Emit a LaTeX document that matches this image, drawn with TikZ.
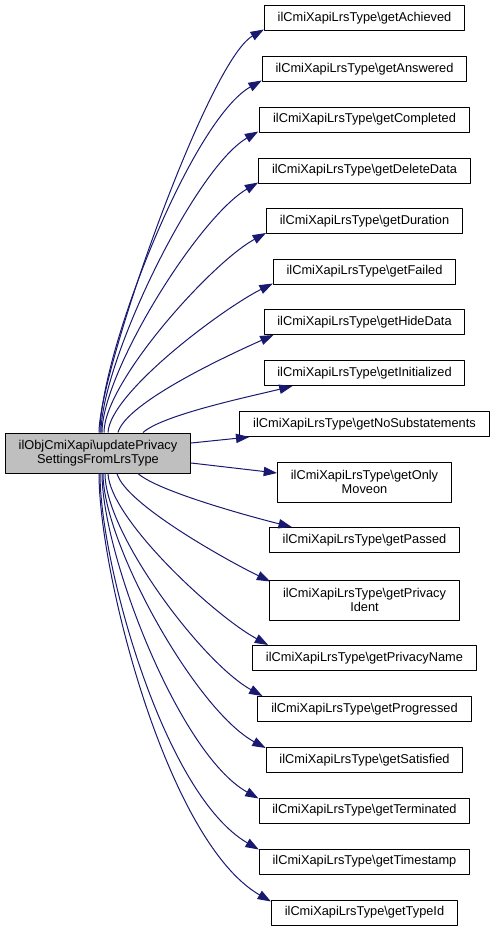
\documentclass[tikz,border=0pt]{standalone}
\usepackage{fontspec}
\setmainfont{Liberation Sans}
\usetikzlibrary{arrows.meta}
\definecolor{callblue}{HTML}{191970}
\definecolor{mainfill}{HTML}{BFBFBF}
\begin{document}
\begin{tikzpicture}[x=.75pt, y=-.75pt, font=\fontsize{9.6}{10.5}\selectfont, line join=round,
	fn/.style={draw=black, fill=white, line width=.75pt, inner xsep=10pt, inner ysep=0pt, minimum height=18.75pt, align=center},
	tallfn/.style={fn, minimum height=30pt},
	link/.style={draw=callblue, line width=.75pt, -{Triangle[length=10pt, width=7pt]}}]
	\useasboundingbox (0,0) rectangle (496,931);
	% caller
	\node[tallfn, fill=mainfill] (main) at (98,453) {ilObjCmiXapi\textbackslash updatePrivacy\\SettingsFromLrsType};
	% callees
	\node[fn] (n1) at (364.5,18.5) {ilCmiXapiLrsType\textbackslash getAchieved};
	\node[fn] (n2) at (364.5,69) {ilCmiXapiLrsType\textbackslash getAnswered};
	\node[fn] (n3) at (364.5,119.5) {ilCmiXapiLrsType\textbackslash getCompleted};
	\node[fn] (n4) at (364.5,170.5) {ilCmiXapiLrsType\textbackslash getDeleteData};
	\node[fn] (n5) at (364.5,221) {ilCmiXapiLrsType\textbackslash getDuration};
	\node[fn] (n6) at (364.5,271.5) {ilCmiXapiLrsType\textbackslash getFailed};
	\node[fn] (n7) at (364.5,322) {ilCmiXapiLrsType\textbackslash getHideData};
	\node[fn] (n8) at (364.5,373) {ilCmiXapiLrsType\textbackslash getInitialized};
	\node[fn] (n9) at (364.5,424) {ilCmiXapiLrsType\textbackslash getNoSubstatements};
	\node[tallfn] (n10) at (364.5,482) {ilCmiXapiLrsType\textbackslash getOnly\\Moveon};
	\node[fn] (n11) at (364.5,540) {ilCmiXapiLrsType\textbackslash getPassed};
	\node[tallfn] (n12) at (364.5,600) {ilCmiXapiLrsType\textbackslash getPrivacy\\Ident};
	\node[fn] (n13) at (364.5,658) {ilCmiXapiLrsType\textbackslash getPrivacyName};
	\node[fn] (n14) at (364.5,709) {ilCmiXapiLrsType\textbackslash getProgressed};
	\node[fn] (n15) at (364.5,760) {ilCmiXapiLrsType\textbackslash getSatisfied};
	\node[fn] (n16) at (364.5,810.5) {ilCmiXapiLrsType\textbackslash getTerminated};
	\node[fn] (n17) at (364.5,861.5) {ilCmiXapiLrsType\textbackslash getTimestamp};
	\node[fn] (n18) at (364.5,912.5) {ilCmiXapiLrsType\textbackslash getTypeId};
	% calls going up
	\draw[link] ([shift={(1,0)}]main.north) .. controls ([shift={(1,-61)}]main.north) and ([shift={(-56,30)}]n1.south west) .. ([shift={(0,-2)}]n1.south west);
	\draw[link] ([shift={(2,0)}]main.north) .. controls ([shift={(2,-80)}]main.north) and ([shift={(-70,38)}]n2.south west) .. ([shift={(0,-1.5)}]n2.south west);
	\draw[link] ([shift={(3,0)}]main.north) .. controls ([shift={(3,-70)}]main.north) and ([shift={(-65,36)}]n3.south west) .. ([shift={(-1,-1)}]n3.south west);
	\draw[link] ([shift={(4,0)}]main.north) .. controls ([shift={(4,-60)}]main.north) and ([shift={(-60,34)}]n4.south west) .. ([shift={(0,-1)}]n4.south west);
	\draw[link] ([shift={(6,0)}]main.north) .. controls ([shift={(6,-50)}]main.north) and ([shift={(-55,29)}]n5.south west) .. ([shift={(0,-1)}]n5.south west);
	\draw[link] ([shift={(10,0)}]main.north) .. controls ([shift={(12,-40)}]main.north) and ([shift={(-50,24)}]n6.south west) .. ([shift={(0,-1)}]n6.south west);
	\draw[link] ([shift={(20,0)}]main.north) .. controls ([shift={(28,-30)}]main.north) and ([shift={(-35,20)}]n7.south west) .. ([shift={(10,0)}]n7.south west);
	\draw[link] ([shift={(45,0)}]main.north) .. controls ([shift={(65,-18)}]main.north) and ([shift={(-11,10)}]n8.south west) .. ([shift={(29,0)}]n8.south west);
	% calls to the side
	\draw[link] ([shift={(0,-10)}]main.east) -- ([shift={(10,0)}]n9.south west);
	\draw[link] ([shift={(0,10)}]main.east) -- ([shift={(0,-9)}]n10.west);
	% calls going down
	\draw[link] ([shift={(40,0)}]main.south) .. controls ([shift={(60,18)}]main.south) and ([shift={(-17,-10)}]n11.north west) .. ([shift={(23,0)}]n11.north west);
	\draw[link] ([shift={(19,0)}]main.south) .. controls ([shift={(27,30)}]main.south) and ([shift={(-44,-20)}]n12.north west) .. ([shift={(1,2)}]n12.north west);
	\draw[link] ([shift={(10,0)}]main.south) .. controls ([shift={(12,45)}]main.south) and ([shift={(-39,-30)}]n13.north west) .. ([shift={(16,0)}]n13.north west);
	\draw[link] ([shift={(7,0)}]main.south) .. controls ([shift={(7,60)}]main.south) and ([shift={(-55,-33)}]n14.north west) .. ([shift={(5,0)}]n14.north west);
	\draw[link] ([shift={(5,0)}]main.south) .. controls ([shift={(5,70)}]main.south) and ([shift={(-70,-37)}]n15.north west) .. ([shift={(0,1)}]n15.north west);
	\draw[link] ([shift={(4,0)}]main.south) .. controls ([shift={(4,80)}]main.south) and ([shift={(-80,-44)}]n16.north west) .. ([shift={(0,1)}]n16.north west);
	\draw[link] ([shift={(2,0)}]main.south) .. controls ([shift={(2,90)}]main.south) and ([shift={(-95,-54)}]n17.north west) .. ([shift={(0,1)}]n17.north west);
	\draw[link] ([shift={(1,0)}]main.south) .. controls ([shift={(1,100)}]main.south) and ([shift={(-104,-58)}]n18.north west) .. ([shift={(0,2)}]n18.north west);
\end{tikzpicture}
\end{document}
